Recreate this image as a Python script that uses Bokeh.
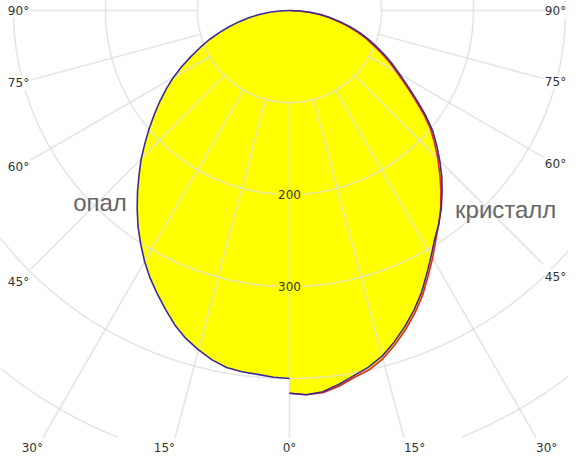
import numpy as np
from bokeh.plotting import figure
from bokeh.models import Range1d, Label
from bokeh.embed import file_html
from bokeh.resources import INLINE
from bokeh.core.properties import value

# ---------------- data ----------------
angles = [0, 2.5, 5, 7.5, 10, 12.5, 15, 17.5, 20, 22.5, 25, 27.5, 30, 32.5, 35, 37.5, 40, 42.5, 45,
          47.5, 50, 52.5, 55, 57.5, 60, 62.5, 65, 67.5, 70, 72.5, 75, 77.5, 80, 82.5, 85, 87.5, 90]
opal = [400, 399, 397, 396, 394, 389, 382, 374, 364, 352, 340, 328, 315, 301, 287, 272, 257, 242, 228,
        213, 199, 185, 172, 159, 146, 132, 118, 105, 93, 80, 68, 56, 45, 33, 22, 11, 0]
kristall_1 = [416, 418, 416, 410, 403, 397, 389, 378, 366, 353, 339, 323, 308, 294, 283, 271, 258, 245, 231,
              217, 203, 186, 168, 152, 138, 126, 114, 102, 91, 80, 68, 56, 45, 34, 22, 11, 0]
kristall_2 = [416, 418, 417, 412, 405, 400, 392, 381, 369, 356, 342, 326, 311, 296, 283, 270, 256, 242, 228,
              214, 200, 183, 165, 149, 135, 123, 111, 99, 88, 77, 66, 54, 44, 33, 22, 11, 0]
grid_radii = [100, 200, 300, 400, 500]
grid_angles = [0, 15, 30, 45, 60, 75, 90]
radial_labels = [200, 300]
series_names = ["опал", "кристалл"]

# ---------------- geometry ----------------
S = 0.92             # px per cd
W, H = 568, 454
PX, PY = 289, 10     # pole inside frame (px)
x_start, x_end = -PX / S, (W - PX) / S
y_end, y_start = PY / S, -(H - PY) / S

XB_L = (30 - PX) / S      # ray clipping box
XB_R = (543 - PX) / S
YB = -(437 - PY) / S

GRID = "#dcdcdc"
GRID_A = 0.75

p = figure(width=W, height=H, x_range=Range1d(x_start, x_end), y_range=Range1d(y_start, y_end),
           output_backend="svg", toolbar_location=None, min_border=0,
           outline_line_color=None, background_fill_color="white", border_fill_color="white")
p.axis.visible = False
p.grid.visible = False

a = np.radians(np.array(angles, dtype=float))

def side_xy(vals, sgn):
    r = np.array(vals, dtype=float)
    return sgn * r * np.sin(a), -r * np.cos(a)

# fills
ox, oy = side_xy(opal, -1)
p.patch(list(ox[::-1]) + [0.0], list(oy[::-1]) + [0.0], fill_color="#ffff00", line_color=None)
for k in (kristall_2, kristall_1):
    kx, ky = side_xy(k, 1)
    p.patch([0.0] + list(kx), [0.0] + list(ky), fill_color="#ffff00", line_color=None)

# grid circles
gxs, gys = [], []
t = np.radians(np.linspace(0, 360, 721))
for r in grid_radii:
    cx = r * np.sin(t)
    cy = -r * np.cos(t)
    cy = np.where(cy < YB, np.nan, cy)
    gxs.append(list(cx)); gys.append(list(cy))
p.multi_line(gxs, gys, line_color=GRID, line_alpha=GRID_A, line_width=1.6)

# rays
rxs, rys, lab = [], [], []
for ang in grid_angles:
    for sgn in ([-1, 1] if ang > 0 else [1]):
        s, c = np.sin(np.radians(ang)), np.cos(np.radians(ang))
        ts = []
        if s > 1e-9:
            xb = XB_L if sgn < 0 else XB_R
            ts.append(("side", abs(xb) / s))
        if c > 1e-9:
            ts.append(("bottom", -YB / c))
        kind, tt = min(ts, key=lambda z: z[1])
        x1, y1 = sgn * grid_radii[0] * s, -grid_radii[0] * c
        x2, y2 = sgn * tt * s, -tt * c
        rxs.append([x1, x2]); rys.append([y1, y2])
        lab.append((ang, sgn, kind, x2, y2))
p.multi_line(rxs, rys, line_color=GRID, line_alpha=GRID_A, line_width=1.6)

for ang, sgn, kind, x2, y2 in lab:
    txt = f"{ang}°"
    if kind == "side":
        lx = x2 + sgn * 12 / S
        ly = y2 * abs(lx) / abs(x2)
        align = "center"
    else:
        lx = x2
        ly = y2 - 10 / S
        align = "center" if ang == 0 else ("right" if sgn < 0 else "left")
    p.add_layout(Label(x=lx, y=ly, text=txt, text_align=align, text_baseline="middle",
                       text_font="DejaVu Sans", text_font_size="12px", text_color="#333333",
                       background_fill_color="white"))

for rv in radial_labels:
    p.add_layout(Label(x=0, y=-rv, text=str(rv), text_align="center", text_baseline="middle",
                       text_font="DejaVu Sans", text_font_size="12px", text_color="#333333",
                       background_fill_color="#ffff00"))

# curves
p.line(list(ox), list(oy), line_color="#3b2a98", line_width=1.6)
k2x, k2y = side_xy(kristall_2, 1)
p.line(list(k2x), list(k2y), line_color="#e8281e", line_width=1.6)
k1x, k1y = side_xy(kristall_1, 1)
p.line(list(k1x), list(k1y), line_color="#3b2a98", line_width=1.6)

# series names
p.text(x=[-206.0], y=[-209.0], text=[series_names[0]], text_align="center", text_baseline="middle",
       text_font=value("Liberation Sans"), text_font_size="24px", text_color="#666666")
p.text(x=[235.0], y=[-216.0], text=[series_names[1]], text_align="center", text_baseline="middle",
       text_font=value("Liberation Sans"), text_font_size="24px", text_color="#666666")

open("out.html", "w").write(file_html(p, INLINE))
